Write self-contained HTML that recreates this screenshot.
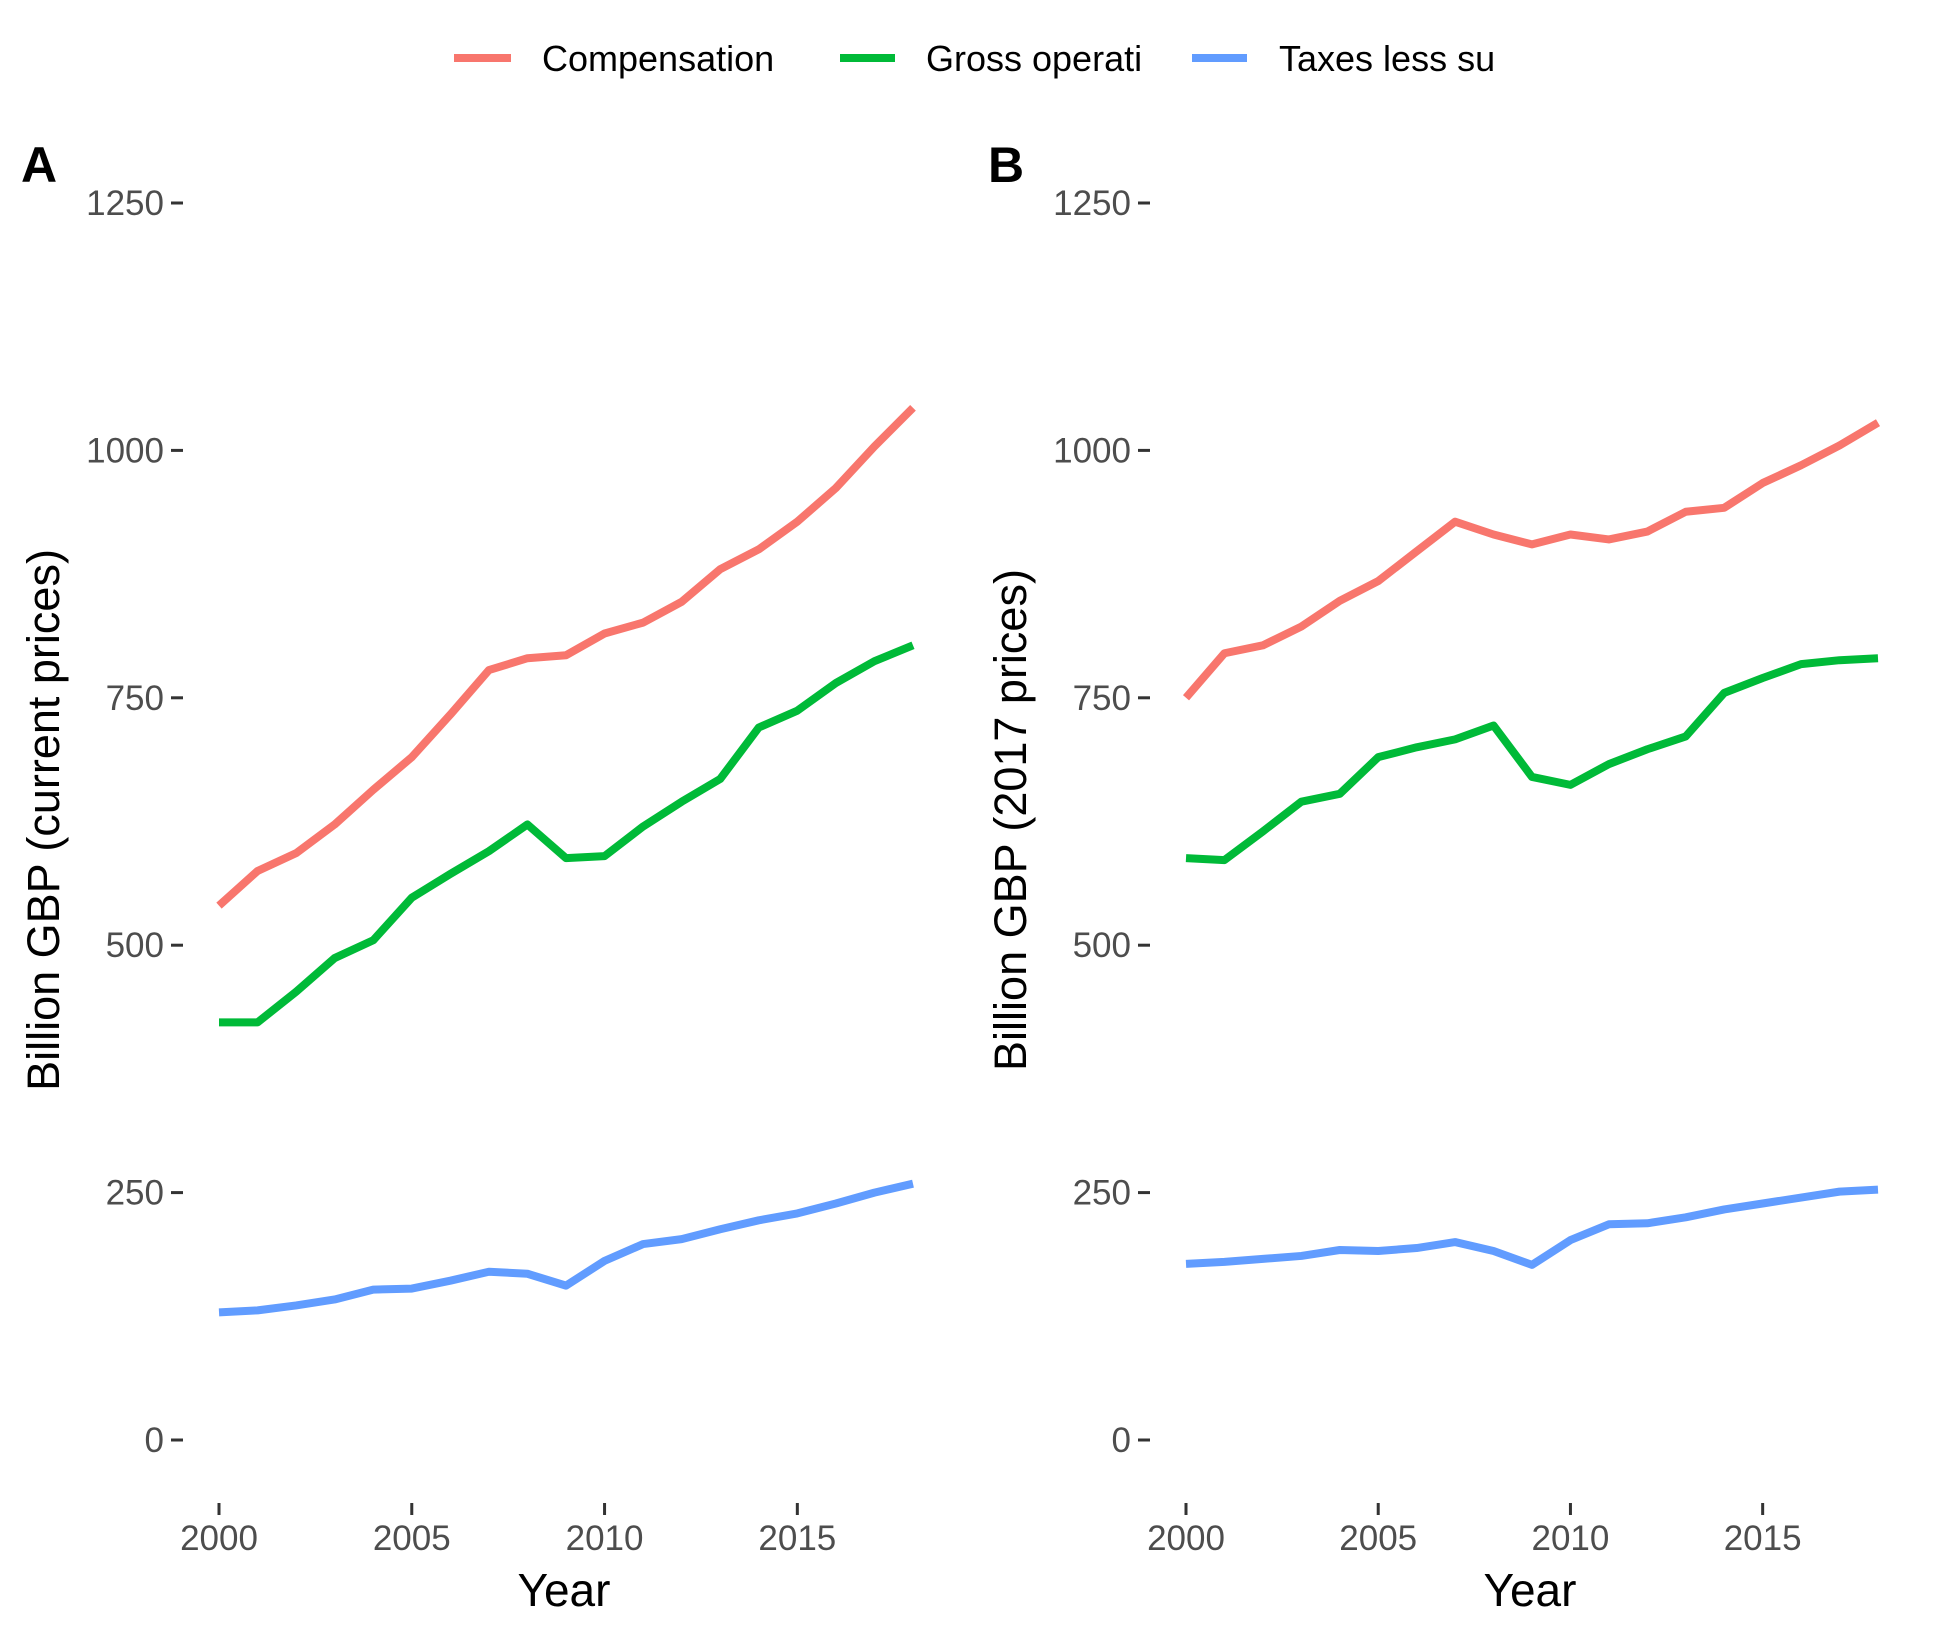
<!DOCTYPE html>
<html><head><meta charset="utf-8"><style>
body{margin:0;background:#fff}
svg text{font-family:"Liberation Sans",sans-serif}
</style></head><body>
<svg id="c" width="1937" height="1640" xmlns="http://www.w3.org/2000/svg">
<g>
 <g><line x1="454" y1="58" x2="511" y2="58" stroke="#F8766D" stroke-width="8"/><text x="542" y="71" font-size="36">Compensation</text></g>
 <g><line x1="840" y1="58" x2="895" y2="58" stroke="#00BA38" stroke-width="8"/><text x="926" y="71" font-size="36">Gross operati</text></g>
 <g><line x1="1192" y1="58" x2="1247" y2="58" stroke="#619CFF" stroke-width="8"/><text x="1279" y="71" font-size="36">Taxes less su</text></g>
</g>
</svg>
<script>
const years=[2000,2001,2002,2003,2004,2005,2006,2007,2008,2009,2010,2011,2012,2013,2014,2015,2016,2017,2018];
const compA=[540,575,593,622,657,690,733,778,790,793,815,826,847,880,900,928,962,1004,1043];
const grossA=[422,422,453,487,505,548,572,595,622,588,590,620,645,668,720,737,765,787,803];
const taxA=[129,131,136,142,152,153,161,170,168,156,181,198,203,213,222,229,239,250,259];
const compB=[750,795,803,822,848,868,898,928,915,905,915,910,918,938,942,967,985,1005,1028];
const grossB=[588,586,615,645,653,690,700,708,722,670,662,683,698,711,755,770,784,788,790];
const taxB=[178,180,183,186,192,191,194,200,191,177,202,218,219,225,233,239,245,251,253];
const yTicks=[0,250,500,750,1000,1250];
const xTicks=[2000,2005,2010,2015];
const NS="http://www.w3.org/2000/svg";
const svg=document.getElementById('c');
function mk(t,a,p){const e=document.createElementNS(NS,t);for(const k in a)e.setAttribute(k,a[k]);(p||svg).appendChild(e);return e;}
function panel(x0,x1,label,title,series,key){
 const g=mk('g',{});
 
 
 const sx=v=>x0+(v-2000)/18*(x1-x0);
 const sy=v=>1440-v/1250*(1440-203);
 const L=mk('text',{x:x0-198,y:182,'font-size':'50','font-weight':'bold'},g);L.textContent=label;
 
 
 yTicks.forEach(t=>{
  const tk=mk('line',{x1:x0-48,x2:x0-36,y1:sy(t),y2:sy(t),stroke:'#333','stroke-width':3},g);
  
  
  const tx=mk('text',{x:x0-55,y:sy(t)+12,'font-size':'35',fill:'#4d4d4d','text-anchor':'end'},g);tx.textContent=t;
  
  
 });
 xTicks.forEach(t=>{
  const tk=mk('line',{x1:sx(t),x2:sx(t),y1:1503,y2:1515,stroke:'#333','stroke-width':3},g);
  
  
  const tx=mk('text',{x:sx(t),y:1550,'font-size':'35',fill:'#4d4d4d','text-anchor':'middle'},g);tx.textContent=t;
  
  
 });
 const xt=mk('text',{x:(x0+x1)/2-2,y:1606,'font-size':'46','text-anchor':'middle'},g);xt.textContent='Year';
 
 
 const yt=mk('text',{x:0,y:0,'font-size':'45','text-anchor':'middle',transform:`translate(${x0-160},820) rotate(-90)`},g);yt.textContent=title;
 
 
 series.forEach(([d,c,n])=>{
  const p=mk('polyline',{points:d.map((v,i)=>sx(years[i])+','+sy(v)).join(' '),fill:'none',stroke:c,'stroke-width':8,'stroke-linejoin':'round'},g);
  
  
 });
}
panel(219,913,'A','Billion GBP (current prices)',[[compA,'#F8766D','compensation'],[grossA,'#00BA38','gross-operating'],[taxA,'#619CFF','taxes']],'a');
panel(1186,1878,'B','Billion GBP (2017 prices)',[[compB,'#F8766D','compensation'],[grossB,'#00BA38','gross-operating'],[taxB,'#619CFF','taxes']],'b');
</script>
</body></html>
